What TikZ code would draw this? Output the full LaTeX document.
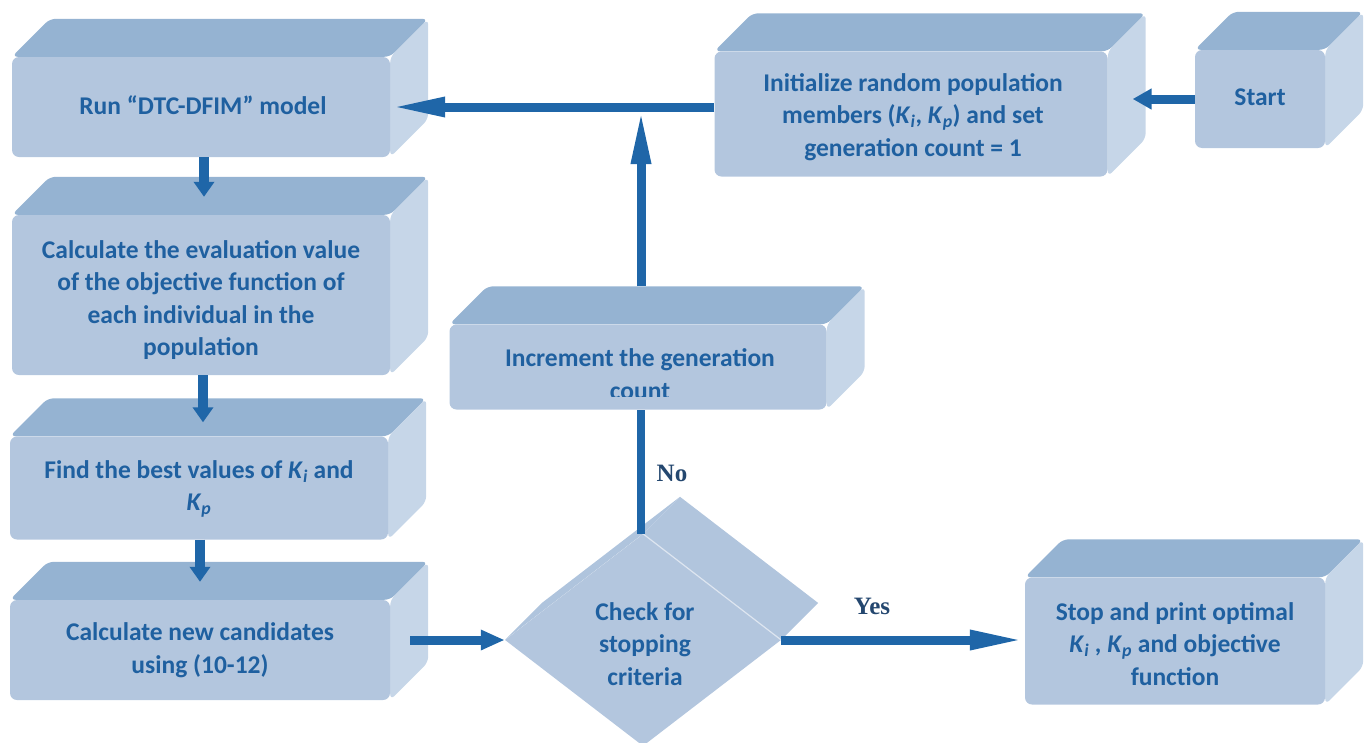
\documentclass[tikz,border=0pt]{standalone}
\usepackage{fontspec}
\setmainfont{Carlito}
\newfontfamily\ynfont{Liberation Serif}
\usetikzlibrary{arrows.meta,calc,shapes.geometric}

\definecolor{frontc}{HTML}{B3C6DE}
\definecolor{topc}{HTML}{95B3D2}
\definecolor{sidec}{HTML}{C6D6E8}
\definecolor{txtc}{HTML}{1F60A0}
\definecolor{arrc}{HTML}{1F66A8}
\definecolor{ync}{HTML}{24476F}

\pgfdeclarelayer{back}
\pgfsetlayers{back,main}

\newcommand\Ki{\textit{K}\textsubscript{\textit{i}}}
\newcommand\Kp{\textit{K}\textsubscript{\textit{p}}}

% top and right faces of an extruded box, drawn behind its front node
\newcommand\boxfaces[1]{%
  \begin{pgfonlayer}{back}
    \fill[topc, rounded corners=6pt] (#1.north west) -- ($(#1.north west)+(38,-38)$)
      -- ($(#1.north east)+(38,-38)$) -- (#1.north east) -- cycle;
    \fill[sidec, rounded corners=6pt] (#1.north east) -- ($(#1.north east)+(38,-38)$)
      -- ($(#1.south east)+(38,-38)$) -- (#1.south east) -- cycle;
  \end{pgfonlayer}}

% \flowbox{name}{centre}{width}{height}{text offset}{text}
\newcommand\flowbox[6]{%
  \node[frontbox, minimum width=#3, minimum height=#4] (#1) at #2 {};
  \boxfaces{#1}
  \node[boxtext] (#1text) at ($(#1.center)+#5$) {#6};}

\tikzset{
  x=1pt, y=-1pt,
  boxtext/.style={align=center, text=txtc, font=\bfseries\fontsize{25.5}{32.5}\selectfont, inner sep=0pt},
  frontbox/.style={fill=frontc, rounded corners=7pt, inner sep=0pt},
  decision/.style={shape=diamond, fill=frontc, inner sep=0pt},
  flow/.style={draw=arrc, line width=9pt},
  longarr/.style={flow, -{Triangle[length=55pt,width=18pt]}},
  shortarr/.style={flow, -{Triangle[length=24pt,width=19pt]}},
  downarr/.style={draw=arrc, line width=10pt, -{Triangle[length=15pt,width=20pt]}},
  ynlabel/.style={text=ync, font=\ynfont\bfseries\fontsize{25}{28}\selectfont},
}

\begin{document}
\begin{tikzpicture}
\useasboundingbox (0,0) rectangle (1368,742);

% process boxes
\flowbox{run}{(201,107)}{378pt}{100pt}{(2,-2)}{Run “DTC-DFIM” model}
\flowbox{eval}{(201,295)}{378pt}{160pt}{(0,5)}
  {Calculate the evaluation value\\of the objective function of\\each individual in the\\population}
\flowbox{find}{(199,488)}{378pt}{103pt}{(0,1)}{Find the best values of \Ki\ and\\\Kp}
\flowbox{cand}{(200,650)}{380pt}{100pt}{(0,0)}{Calculate new candidates\\using (10-12)}
\flowbox{init}{(911,114)}{393pt}{125pt}{(2,3)}
  {Initialize random population\\members (\Ki, \Kp) and set\\generation count = 1}
\flowbox{start}{(1260,99)}{130pt}{98pt}{(0,-2)}{Start}
\flowbox{stop}{(1175,641)}{300pt}{127pt}{(0,3)}
  {Stop and print optimal\\\Ki\ , \Kp\ and objective\\function}

% this box shows its second line cut off at the bottom
\node[frontbox, minimum width=377pt, minimum height=85pt] (inc) at (638,367) {};
\boxfaces{inc}
\begin{scope}
  \clip (inc.north west) rectangle ($(inc.south east)+(0,-13)$);
  \node[boxtext] (inctext) at ($(inc.center)+(2,7)$) {Increment the generation\\count};
\end{scope}

% decision diamond with its extruded edge
\node[decision, minimum width=276pt, minimum height=212pt] (dec) at (643,640) {};
\begin{pgfonlayer}{back}
  \fill[frontc!88!topc] (dec.west) -- ($(dec.west)+(37,-37)$) -- ($(dec.north)+(37,-37)$) -- (dec.north) -- cycle;
  \fill[frontc!92!topc] (dec.north) -- ($(dec.north)+(37,-37)$) -- ($(dec.east)+(37,-37)$) -- (dec.east) -- cycle;
\end{pgfonlayer}
\draw[white!55!frontc, line width=1.2pt] (dec.north) -- (dec.east);
\node[boxtext] (dectext) at ($(dec.center)+(2,4)$) {Check for\\stopping\\criteria};

% connectors
\coordinate (j) at (641,107);
\coordinate (d1) at (204,0);
\coordinate (d2) at (203,0);
\coordinate (d3) at (200,0);
\draw[longarr] (init.west |- j) -- (run.east |- j);
\draw[longarr] ($(inc.north -| j)+(0,-38)$) -- ($(j)+(0,2)$);
\draw[flow, line width=8pt] (dec.north -| j) -- (inc.south -| j);
\draw[longarr] (dec.east) -- (stop.west |- dec.east);
\draw[shortarr] ($(cand.east |- dec.west)+(20,0)$) -- (dec.west);
\draw[flow, -{Triangle[length=19pt,width=20pt]}] (start.west) -- ($(init.east |- start.west)+(25,0)$);
\draw[downarr] (run.south -| d1) -- ($(eval.north -| d1)+(0,-18)$);
\draw[downarr] (eval.south -| d2) -- ($(find.north -| d2)+(0,-14)$);
\draw[downarr] (find.south -| d3) -- ($(cand.north -| d3)+(0,-18)$);

% branch labels
\node[ynlabel] (nolab) at (672,473) {No};
\node[ynlabel] (yeslab) at (872,606) {Yes};
\end{tikzpicture}
\end{document}
